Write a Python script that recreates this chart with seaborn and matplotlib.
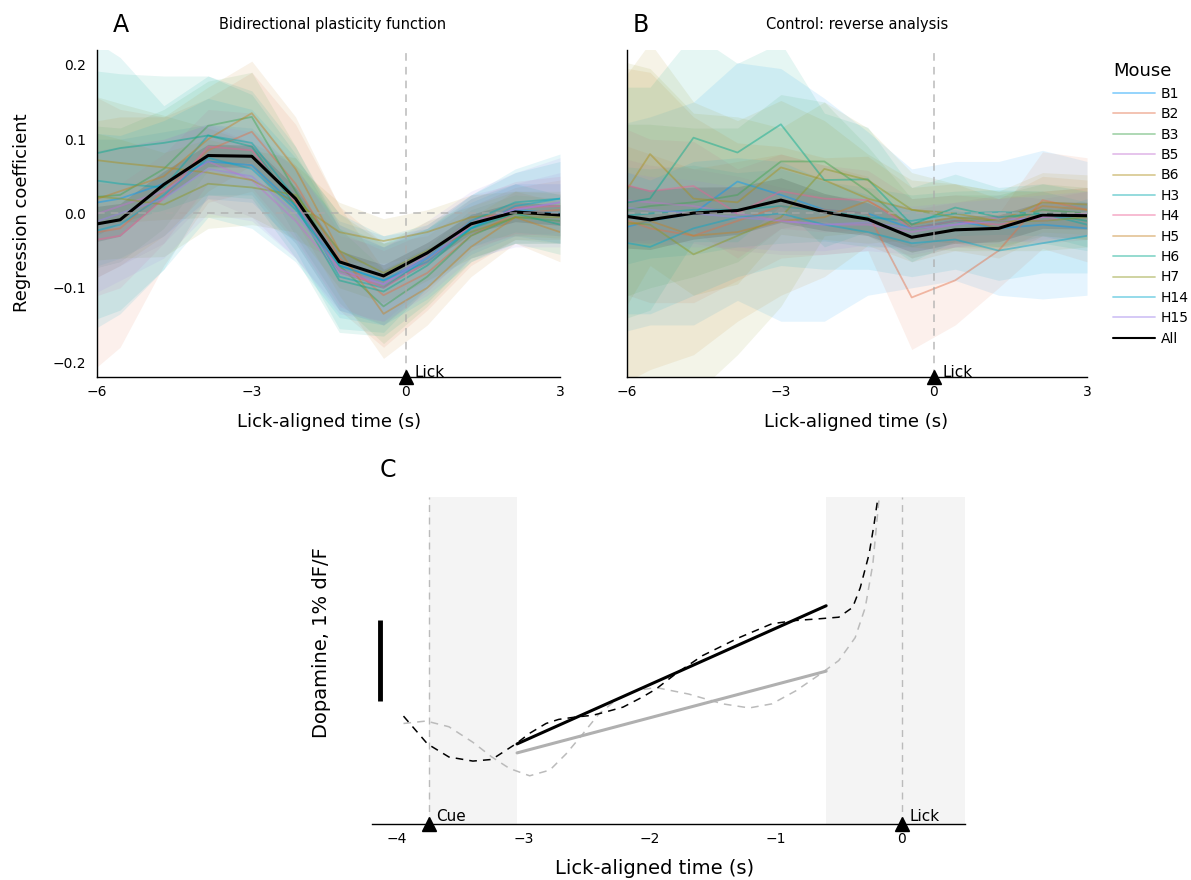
import numpy as np
import pandas as pd
import matplotlib.pyplot as plt
import seaborn as sns
from matplotlib.lines import Line2D

sns.set_style("white")
plt.rcParams['font.family'] = ['DejaVu Sans']
plt.rcParams['text.color'] = 'black'
plt.rcParams['axes.labelcolor'] = 'black'

# time bins (s, lick-aligned)
t_bins = [-6.4, -5.55, -4.7, -3.84, -2.99, -2.14, -1.29, -0.43, 0.42, 1.27, 2.13, 3.0]

mice = ['B1', 'B2', 'B3', 'B5', 'B6', 'H3', 'H4', 'H5', 'H6', 'H7', 'H14', 'H15']
mouse_colors = ['#009AFA', '#E36F47', '#3EA44E', '#C371D2', '#AC8E18', '#00A9AD',
                '#ED5E93', '#C68225', '#00A98D', '#8E971E', '#00A9CD', '#9B7FE9']

# panel A: bidirectional plasticity function (one row per mouse)
coef_a = [
    [0.010, 0.020, 0.040, 0.070, 0.065, 0.010, -0.070, -0.090, -0.060, -0.020, 0.005, 0.000],
    [-0.030, -0.020, 0.030, 0.085, 0.110, 0.040, -0.060, -0.110, -0.080, -0.030, 0.000, 0.005],
    [0.020, 0.025, 0.060, 0.118, 0.130, 0.030, -0.070, -0.125, -0.085, -0.030, -0.005, -0.010],
    [-0.010, 0.010, 0.030, 0.070, 0.045, -0.010, -0.080, -0.095, -0.055, -0.010, 0.005, 0.015],
    [0.075, 0.068, 0.062, 0.055, 0.045, 0.015, -0.025, -0.037, -0.025, -0.005, 0.000, -0.003],
    [0.048, 0.040, 0.035, 0.105, 0.095, 0.020, -0.085, -0.100, -0.060, -0.010, 0.015, 0.020],
    [-0.040, -0.030, 0.020, 0.090, 0.085, 0.015, -0.075, -0.100, -0.065, -0.015, 0.008, 0.010],
    [0.010, 0.030, 0.050, 0.100, 0.135, 0.060, -0.050, -0.135, -0.100, -0.045, -0.005, -0.025],
    [0.075, 0.088, 0.095, 0.105, 0.090, 0.010, -0.090, -0.105, -0.070, -0.020, 0.000, -0.015],
    [0.025, 0.020, 0.012, 0.040, 0.035, 0.025, -0.050, -0.080, -0.050, -0.025, -0.005, -0.005],
    [-0.030, -0.015, 0.025, 0.075, 0.060, 0.005, -0.070, -0.090, -0.065, -0.020, 0.010, 0.020],
    [-0.020, 0.000, 0.020, 0.060, 0.050, 0.000, -0.075, -0.095, -0.060, -0.015, 0.005, 0.015],
]
se_a = [
    [0.09, 0.08, 0.07, 0.05, 0.05, 0.05, 0.06, 0.06, 0.04, 0.035, 0.035, 0.040],
    [0.20, 0.16, 0.10, 0.07, 0.08, 0.08, 0.07, 0.07, 0.05, 0.040, 0.035, 0.040],
    [0.10, 0.09, 0.08, 0.06, 0.06, 0.06, 0.05, 0.05, 0.04, 0.035, 0.030, 0.030],
    [0.09, 0.08, 0.07, 0.05, 0.05, 0.05, 0.05, 0.05, 0.04, 0.035, 0.035, 0.040],
    [0.09, 0.08, 0.07, 0.06, 0.05, 0.05, 0.04, 0.03, 0.03, 0.030, 0.030, 0.030],
    [0.20, 0.17, 0.11, 0.08, 0.07, 0.07, 0.07, 0.06, 0.04, 0.035, 0.040, 0.050],
    [0.08, 0.07, 0.06, 0.05, 0.05, 0.05, 0.05, 0.05, 0.04, 0.035, 0.035, 0.040],
    [0.11, 0.10, 0.08, 0.07, 0.07, 0.07, 0.06, 0.06, 0.05, 0.040, 0.035, 0.040],
    [0.12, 0.10, 0.09, 0.08, 0.07, 0.07, 0.07, 0.06, 0.05, 0.040, 0.040, 0.040],
    [0.09, 0.08, 0.07, 0.06, 0.05, 0.05, 0.05, 0.04, 0.04, 0.035, 0.035, 0.035],
    [0.14, 0.12, 0.10, 0.08, 0.08, 0.07, 0.07, 0.06, 0.05, 0.045, 0.050, 0.060],
    [0.10, 0.09, 0.08, 0.06, 0.06, 0.06, 0.06, 0.05, 0.05, 0.045, 0.050, 0.060],
]
all_a = [-0.019, -0.0085, 0.039, 0.078, 0.077, 0.020, -0.065, -0.084, -0.053, -0.014, 0.002, -0.002]
all_se_a = [0.025, 0.022, 0.018, 0.015, 0.015, 0.015, 0.015, 0.015, 0.014, 0.013, 0.013, 0.014]

# panel B: control, reverse analysis
coef_b = [
    [-0.025, -0.010, 0.000, 0.043, 0.025, 0.005, 0.000, -0.020, -0.010, -0.020, -0.015, -0.020],
    [0.000, -0.020, -0.030, -0.010, 0.010, 0.005, 0.000, -0.113, -0.090, -0.050, 0.018, 0.005],
    [0.000, 0.010, 0.015, 0.025, 0.070, 0.070, 0.030, -0.020, -0.010, -0.010, 0.005, 0.000],
    [0.020, 0.015, 0.010, 0.000, -0.010, -0.015, -0.015, -0.025, -0.015, -0.005, -0.010, 0.000],
    [-0.010, 0.080, 0.020, 0.015, 0.062, 0.045, 0.020, 0.005, 0.000, -0.010, 0.015, 0.012],
    [-0.005, 0.000, 0.005, 0.005, 0.010, 0.003, -0.005, -0.010, 0.000, 0.002, 0.000, -0.015],
    [0.045, 0.030, 0.037, 0.000, 0.030, 0.020, 0.018, -0.020, -0.010, -0.015, -0.005, 0.000],
    [-0.020, -0.010, -0.030, -0.025, -0.010, -0.005, 0.017, -0.015, -0.005, -0.020, 0.010, 0.005],
    [0.010, 0.020, 0.102, 0.082, 0.120, 0.045, 0.046, -0.015, 0.008, -0.005, 0.000, -0.010],
    [-0.010, -0.015, -0.055, -0.030, -0.005, 0.060, 0.045, 0.005, -0.005, -0.010, -0.010, -0.005],
    [-0.035, -0.045, -0.020, -0.005, 0.000, -0.015, -0.025, -0.040, -0.035, -0.050, -0.040, -0.030],
    [0.010, 0.005, 0.000, -0.005, -0.010, -0.015, -0.012, -0.020, -0.015, -0.010, -0.005, 0.000],
]
se_b = [
    [0.14, 0.14, 0.15, 0.16, 0.17, 0.15, 0.11, 0.080, 0.080, 0.090, 0.100, 0.090],
    [0.10, 0.10, 0.09, 0.08, 0.07, 0.06, 0.05, 0.070, 0.060, 0.050, 0.065, 0.070],
    [0.12, 0.11, 0.10, 0.09, 0.09, 0.08, 0.06, 0.040, 0.035, 0.035, 0.035, 0.035],
    [0.06, 0.05, 0.05, 0.05, 0.045, 0.04, 0.035, 0.030, 0.030, 0.030, 0.030, 0.030],
    [0.16, 0.15, 0.13, 0.11, 0.09, 0.08, 0.06, 0.040, 0.040, 0.040, 0.040, 0.040],
    [0.07, 0.06, 0.06, 0.05, 0.05, 0.04, 0.04, 0.035, 0.030, 0.030, 0.030, 0.030],
    [0.08, 0.07, 0.06, 0.06, 0.05, 0.045, 0.04, 0.040, 0.035, 0.035, 0.035, 0.035],
    [0.22, 0.20, 0.16, 0.12, 0.10, 0.08, 0.06, 0.050, 0.045, 0.040, 0.040, 0.040],
    [0.16, 0.15, 0.14, 0.12, 0.11, 0.09, 0.07, 0.050, 0.045, 0.040, 0.040, 0.040],
    [0.22, 0.21, 0.19, 0.16, 0.12, 0.09, 0.07, 0.050, 0.045, 0.040, 0.040, 0.040],
    [0.10, 0.09, 0.09, 0.08, 0.07, 0.06, 0.05, 0.045, 0.040, 0.040, 0.040, 0.050],
    [0.05, 0.045, 0.045, 0.04, 0.04, 0.035, 0.03, 0.030, 0.030, 0.030, 0.030, 0.030],
]
all_b = [0.0, -0.0085, 0.0005, 0.004, 0.018, 0.002, -0.0076, -0.032, -0.022, -0.020, -0.002, -0.003]
all_se_b = [0.045, 0.040, 0.035, 0.032, 0.030, 0.025, 0.022, 0.020, 0.018, 0.018, 0.018, 0.018]

# panel C: schematic dopamine traces (% dF/F)
c_t_black = [-3.95, -3.76, -3.59, -3.40, -3.25, -3.06, -2.95, -2.82, -2.72, -2.58, -2.45,
             -2.35, -2.21, -2.06, -1.95, -1.79, -1.58, -1.29, -1.03, -0.84, -0.66, -0.50,
             -0.39, -0.33, -0.26, -0.22, -0.19]
c_y_black = [1.32, 0.98, 0.82, 0.77, 0.79, 0.98, 1.11, 1.23, 1.28, 1.31, 1.33,
             1.37, 1.43, 1.55, 1.65, 1.84, 2.06, 2.28, 2.45, 2.49, 2.51, 2.53,
             2.65, 2.89, 3.30, 3.67, 3.99]
c_t_gray = [-3.95, -3.77, -3.59, -3.40, -3.25, -3.11, -2.95, -2.79, -2.66, -2.53, -2.40,
            -2.27, -2.11, -1.95, -1.69, -1.42, -1.21, -1.03, -0.84, -0.66, -0.50, -0.37,
            -0.29, -0.23, -0.20, -0.18]
c_y_gray = [1.23, 1.26, 1.19, 1.00, 0.82, 0.68, 0.59, 0.66, 0.86, 1.10, 1.35,
            1.51, 1.63, 1.67, 1.59, 1.47, 1.42, 1.47, 1.63, 1.82, 2.00, 2.28,
            2.65, 3.18, 3.67, 3.99]
fit_t = [-3.05, -0.6]
fit_black = [0.98, 2.67]
fit_gray = [0.87, 1.87]
cue_time = -3.75
shade_windows = [(-3.75, -3.05), (-0.6, 0.5)]


def long_table(coefs):
    rows = []
    for m, vals in zip(mice, coefs):
        for t, v in zip(t_bins, vals):
            rows.append({'t': t, 'coef': v, 'mouse': m})
    return pd.DataFrame(rows)


fig = plt.figure(figsize=(11.91, 8.8), dpi=100)
ax_a = fig.add_axes([0.0814, 0.5716, 0.3888, 0.3716])
ax_b = fig.add_axes([0.5265, 0.5716, 0.3862, 0.3716])
ax_c = fig.add_axes([0.3123, 0.0636, 0.4979, 0.3716])

palette = dict(zip(mice, mouse_colors))

for ax, coefs, ses, all_vals, all_se in [(ax_a, coef_a, se_a, all_a, all_se_a),
                                         (ax_b, coef_b, se_b, all_b, all_se_b)]:
    for vals, se, col in zip(coefs, ses, mouse_colors):
        lo = np.array(vals) - np.array(se)
        hi = np.array(vals) + np.array(se)
        ax.fill_between(t_bins, lo, hi, color=col, alpha=0.1, lw=0)
    ax.fill_between(t_bins, np.array(all_vals) - np.array(all_se),
                    np.array(all_vals) + np.array(all_se), color='black', alpha=0.1, lw=0)
    sns.lineplot(data=long_table(coefs), x='t', y='coef', hue='mouse', palette=palette,
                 alpha=0.45, lw=1.3, legend=False, ax=ax, errorbar=None)
    sns.lineplot(x=t_bins, y=all_vals, color='black', lw=2.2, ax=ax, errorbar=None)
    ax.axhline(0, color='#aaaaaa', ls=(0, (5, 4)), lw=1.1, alpha=0.8)
    ax.axvline(0, color='#aaaaaa', ls=(0, (5, 4)), lw=1.1, alpha=0.8)
    ax.set_xlim(-6, 3)
    ax.set_ylim(-0.22, 0.22)
    ax.set_xticks([-6, -3, 0, 3])
    ax.set_yticks([-0.2, -0.1, 0.0, 0.1, 0.2])
    ax.tick_params(direction='in', length=4, width=0.8, labelsize=10, colors='black')
    ax.tick_params(axis='y', pad=8)
    ax.tick_params(axis='x', pad=6)
    for s in ['top', 'right']:
        ax.spines[s].set_visible(False)
    for s in ['left', 'bottom']:
        ax.spines[s].set_color('black')
        ax.spines[s].set_linewidth(1.0)
    ax.set_xlabel('')
    ax.set_ylabel('')
    ax.plot([0], [-0.22], marker='^', color='black', ms=10, clip_on=False, zorder=5)
    ax.text(0.18, -0.2135, 'Lick', fontsize=11, va='center', ha='left')

ax_b.set_yticklabels([])

fig.text(0.095, 0.972, 'A', fontsize=17, va='center', ha='left')
fig.text(0.279, 0.972, 'Bidirectional plasticity function', fontsize=10.5, va='center', ha='center')
fig.text(0.531, 0.972, 'B', fontsize=17, va='center', ha='left')
fig.text(0.72, 0.972, 'Control: reverse analysis', fontsize=10.5, va='center', ha='center')
fig.text(0.0185, 0.758, 'Regression coefficient', fontsize=13, rotation=90, va='center', ha='center')
fig.text(0.276, 0.52, 'Lick-aligned time (s)', fontsize=13, va='center', ha='center')
fig.text(0.719, 0.52, 'Lick-aligned time (s)', fontsize=13, va='center', ha='center')

handles = [Line2D([], [], color=c, lw=1.3, alpha=0.45) for c in mouse_colors]
handles.append(Line2D([], [], color='black', lw=1.5))
leg = ax_b.legend(handles, mice + ['All'], title='Mouse', loc='upper left',
                  bbox_to_anchor=(1.03, 1.0), frameon=False, fontsize=10,
                  title_fontsize=13, handlelength=3.0, labelspacing=0.46,
                  handletextpad=0.4, alignment='left')

# panel C
for x0, x1 in shade_windows:
    ax_c.axvspan(x0, x1, color='#f4f4f4', lw=0, zorder=0)
ax_c.axvline(cue_time, color='#bbbbbb', ls=(0, (5, 4)), lw=1.0)
ax_c.axvline(0, color='#bbbbbb', ls=(0, (5, 4)), lw=1.0)
sns.lineplot(x=c_t_gray, y=c_y_gray, color='#bbbbbb', lw=1.1, ls=(0, (5, 4)),
             sort=False, ax=ax_c, errorbar=None)
sns.lineplot(x=c_t_black, y=c_y_black, color='black', lw=1.1, ls=(0, (5, 4)),
             sort=False, ax=ax_c, errorbar=None)
sns.lineplot(x=fit_t, y=fit_gray, color='#b0b0b0', lw=2.2, ax=ax_c, errorbar=None)
sns.lineplot(x=fit_t, y=fit_black, color='black', lw=2.2, ax=ax_c, errorbar=None)
ax_c.plot([-4.14, -4.14], [1.5, 2.5], color='black', lw=3.5, solid_capstyle='butt')
ax_c.set_xlim(-4.2, 0.5)
ax_c.set_ylim(0, 4.0)
ax_c.set_xticks([-4, -3, -2, -1, 0])
ax_c.set_yticks([])
ax_c.tick_params(axis='x', direction='in', length=4, width=0.8, labelsize=10,
                 colors='black', pad=6)
for s in ['top', 'right', 'left']:
    ax_c.spines[s].set_visible(False)
ax_c.spines['bottom'].set_color('black')
ax_c.spines['bottom'].set_linewidth(1.0)
ax_c.set_xlabel('')
ax_c.set_ylabel('')
ax_c.plot([cue_time, 0], [0, 0], ls='none', marker='^', color='black', ms=10,
          clip_on=False, zorder=5)
ax_c.text(cue_time + 0.06, 0.0, 'Cue', fontsize=11, va='bottom', ha='left')
ax_c.text(0.06, 0.0, 'Lick', fontsize=11, va='bottom', ha='left')
fig.text(0.319, 0.466, 'C', fontsize=17, va='center', ha='left')
fig.text(0.270, 0.27, 'Dopamine, 1% dF/F', fontsize=14, rotation=90, va='center', ha='center')
fig.text(0.55, 0.0136, 'Lick-aligned time (s)', fontsize=14, va='center', ha='center')

fig.savefig('out.png', dpi=100)
